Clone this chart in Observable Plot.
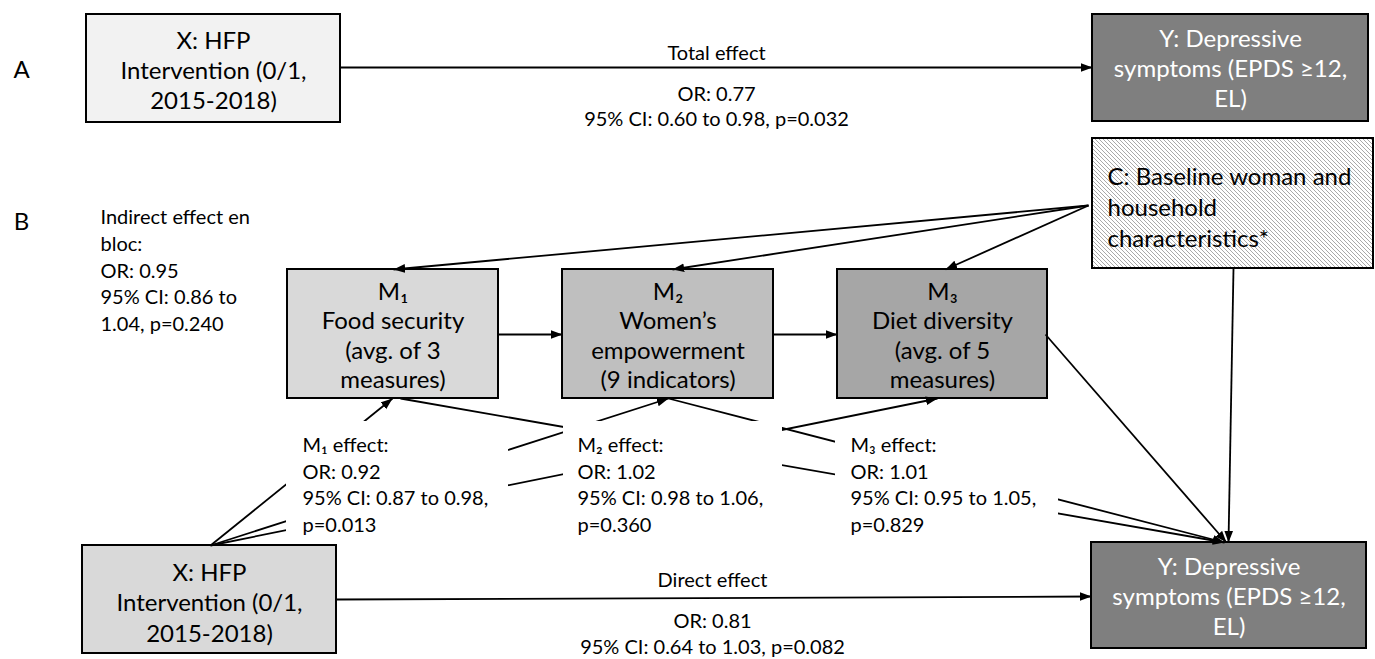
<!DOCTYPE html>
<html>
<head>
<meta charset="utf-8">
<script src="https://cdn.jsdelivr.net/npm/d3@7"></script>
<script src="https://cdn.jsdelivr.net/npm/@observablehq/plot@0.6"></script>
<style>
  html, body { margin: 0; padding: 0; background: #ffffff; }
  svg { display: block; }
</style>
</head>
<body>
<div id="chart"></div>
<script>
// ---------------- data ----------------
const panelLetters = ["A", "B"];
const nodeIds = ["XA", "YA", "C", "M1", "M2", "M3", "XB", "YB"];
const nodeLabels = [
  "X: HFP\nIntervention (0/1,\n2015-2018)",
  "Y: Depressive\nsymptoms (EPDS ≥12,\nEL)",
  "C: Baseline woman and\nhousehold\ncharacteristics*",
  "M₁\nFood security\n(avg. of 3\nmeasures)",
  "M₂\nWomen’s\nempowerment\n(9 indicators)",
  "M₃\nDiet diversity\n(avg. of 5\nmeasures)",
  "X: HFP\nIntervention (0/1,\n2015-2018)",
  "Y: Depressive\nsymptoms (EPDS ≥12,\nEL)"
];
const edgeFrom = ["XA", "XB", "C",  "C",  "C",  "C",  "M1", "M2", "M3", "XB", "XB", "XB", "M1", "M2"];
const edgeTo   = ["YA", "YB", "M1", "M2", "M3", "YB", "M2", "M3", "YB", "M1", "M2", "M3", "YB", "YB"];

const effectIds   = ["total", "direct", "indirect", "m1", "m2", "m3"];
const effectNames = ["Total effect", "Direct effect", "Indirect effect en bloc:", "M₁ effect:", "M₂ effect:", "M₃ effect:"];
const effectOR    = [0.77, 0.81, 0.95, 0.92, 1.02, 1.01];
const effectLo    = [0.60, 0.64, 0.86, 0.87, 0.98, 0.95];
const effectHi    = [0.98, 1.03, 1.04, 0.98, 1.06, 1.05];
const effectP     = ["0.032", "0.082", "0.240", "0.013", "0.360", "0.829"];

// ---------------- layout (positions / styles) ----------------
const W = 1375, H = 659;
const FONT = "Lato, 'Open Sans', sans-serif";

const boxLayout = {
  XA: {x1: 86,   y1: 14,  x2: 340,  y2: 122, fill: "#f2f2f2", ink: "#000000", ty: 69,  lh: 1.25},
  YA: {x1: 1092, y1: 14,  x2: 1368, y2: 121, fill: "#7f7f7f", ink: "#ffffff", ty: 67,  lh: 1.25},
  C:  {x1: 1092, y1: 138, x2: 1373, y2: 268, fill: "url(#hatchC)", ink: "#000000", ty: 206, lh: 1.29, tx: 1107, anchor: "start"},
  M1: {x1: 287,  y1: 269, x2: 498,  y2: 398, fill: "#d9d9d9", ink: "#000000", ty: 334, lh: 1.22},
  M2: {x1: 562,  y1: 269, x2: 773,  y2: 398, fill: "#bfbfbf", ink: "#000000", ty: 334, lh: 1.22},
  M3: {x1: 837,  y1: 269, x2: 1047, y2: 398, fill: "#a6a6a6", ink: "#000000", ty: 334, lh: 1.22},
  XB: {x1: 82,   y1: 545, x2: 336,  y2: 653, fill: "#d9d9d9", ink: "#000000", ty: 601, lh: 1.27},
  YB: {x1: 1091, y1: 542, x2: 1366, y2: 648, fill: "#7f7f7f", ink: "#ffffff", ty: 595, lh: 1.25}
};

// endpoints of each edge (same order as edgeFrom / edgeTo)
const edgeLayout = [
  [340, 67, 1092, 67],
  [336, 599, 1091, 596],
  [1088, 205, 393, 269],
  [1088, 205, 672, 269],
  [1088, 205, 945, 269],
  [1233, 268, 1228, 542],
  [498, 334, 562, 334],
  [773, 334, 837, 334],
  [1045, 334, 1226, 542],
  [210, 545, 392, 398],
  [210, 545, 668, 398],
  [210, 545, 937, 398],
  [400, 398, 1224, 542],
  [668, 398, 1224, 542]
];

// white backing areas of the mediator-effect labels
const labelBacking = {m1: [286, 421, 508, 540], m2: [563, 421, 782, 540], m3: [835, 421, 1058, 540]};

const effectLayout = {
  total:    {headX: 716, headY: 53,  x: 716, y: 104.5, anchor: "middle", lh: 1.25},
  direct:   {headX: 712, headY: 580, x: 712, y: 632,   anchor: "middle", lh: 1.3},
  indirect: {x: 100, y: 268.5, anchor: "start", lh: 1.34},
  m1:       {x: 302, y: 483,   anchor: "start", lh: 1.32},
  m2:       {x: 577, y: 483,   anchor: "start", lh: 1.32},
  m3:       {x: 850, y: 483,   anchor: "start", lh: 1.32}
};
const letterLayout = {A: [21, 70], B: [21, 222]};

// ---------------- build tables ----------------
const boxes = nodeIds.map((id, i) => ({id, label: nodeLabels[i], ...boxLayout[id]}));
const edges = edgeFrom.map((f, i) => {
  const [x1, y1, x2, y2] = edgeLayout[i];
  return {from: f, to: edgeTo[i], x1, y1, x2, y2};
});
const fmt = (v) => v.toFixed(2);
const effects = effectIds.map((id, i) => ({
  id, name: effectNames[i], or: effectOR[i], lo: effectLo[i], hi: effectHi[i], p: effectP[i], ...effectLayout[id]
}));
function effectBody(e) {
  if (e.id === "total" || e.id === "direct")
    return `OR: ${fmt(e.or)}\n95% CI: ${fmt(e.lo)} to ${fmt(e.hi)}, p=${e.p}`;
  if (e.id === "indirect")
    return `Indirect effect en\nbloc:\nOR: ${fmt(e.or)}\n95% CI: ${fmt(e.lo)} to\n${fmt(e.hi)}, p=${e.p}`;
  return `${e.name}\nOR: ${fmt(e.or)}\n95% CI: ${fmt(e.lo)} to ${fmt(e.hi)},\np=${e.p}`;
}
const backings = effects.filter(e => labelBacking[e.id]).map(e => {
  const [x1, y1, x2, y2] = labelBacking[e.id];
  return {id: e.id, x1, y1, x2, y2};
});
const letters = panelLetters.map(l => ({l, x: letterLayout[l][0], y: letterLayout[l][1]}));

// ---------------- custom pieces ----------------
function hatchDefs() {
  const defs = d3.create("svg:defs");
  const p = defs.append("pattern")
    .attr("id", "hatchC")
    .attr("patternUnits", "userSpaceOnUse")
    .attr("width", 4).attr("height", 4);
  p.append("rect").attr("width", 4).attr("height", 4).attr("fill", "#ffffff");
  p.append("path")
    .attr("d", "M-1,-1L5,5M-1,3L1,5M3,-1L5,1")
    .attr("stroke", "#9a9a9a")
    .attr("stroke-width", 0.85);
  return defs.node();
}
function arrowHead(color) {
  const m = d3.create("svg:marker")
    .attr("viewBox", "0 -5 12 10")
    .attr("refX", 12).attr("refY", 0)
    .attr("markerWidth", 6.5).attr("markerHeight", 5.4)
    .attr("markerUnits", "strokeWidth")
    .attr("orient", "auto")
    .attr("fill", color).attr("stroke", "none");
  m.append("path").attr("d", "M0,-4.5L12,0L0,4.5Z");
  return m.node();
}

// ---------------- plot ----------------
const marks = [hatchDefs];

// boxes
boxes.forEach(b => {
  marks.push(Plot.rect([b], {x1: "x1", y1: "y1", x2: "x2", y2: "y2", fill: b.fill, stroke: "#000000", strokeWidth: 2}));
});

// edges
marks.push(Plot.link(edges, {
  x1: "x1", y1: "y1", x2: "x2", y2: "y2",
  stroke: "#000000", strokeWidth: 1.8, markerEnd: arrowHead
}));

// label backings (hide the paths behind the labels)
marks.push(Plot.rect(backings, {x1: "x1", y1: "y1", x2: "x2", y2: "y2", fill: "#ffffff"}));

// box texts
boxes.forEach(b => {
  marks.push(Plot.text([b], {
    x: d => d.tx ?? (d.x1 + d.x2) / 2,
    y: "ty",
    text: "label",
    textAnchor: b.anchor ?? "middle",
    lineAnchor: "middle",
    lineHeight: b.lh,
    fontSize: 24,
    fill: b.ink
  }));
});

// effect texts
effects.forEach(e => {
  if (e.headX !== undefined) {
    marks.push(Plot.text([e], {x: "headX", y: "headY", text: "name", fontSize: 20, fill: "#000000", lineAnchor: "middle"}));
  }
  marks.push(Plot.text([e], {
    x: "x", y: "y", text: effectBody, textAnchor: e.anchor, lineAnchor: "middle",
    lineHeight: e.lh, fontSize: 20, fill: "#000000"
  }));
});

// panel letters
marks.push(Plot.text(letters, {x: "x", y: "y", text: "l", fontSize: 24, fill: "#000000", lineAnchor: "middle"}));

const chart = Plot.plot({
  width: W,
  height: H,
  margin: 0,
  x: {domain: [0, W], range: [0, W], axis: null},
  y: {domain: [0, H], range: [0, H], axis: null},
  style: {fontFamily: FONT, background: "#ffffff", color: "#000000"},
  marks
});
document.getElementById("chart").appendChild(chart);
</script>
</body>
</html>
